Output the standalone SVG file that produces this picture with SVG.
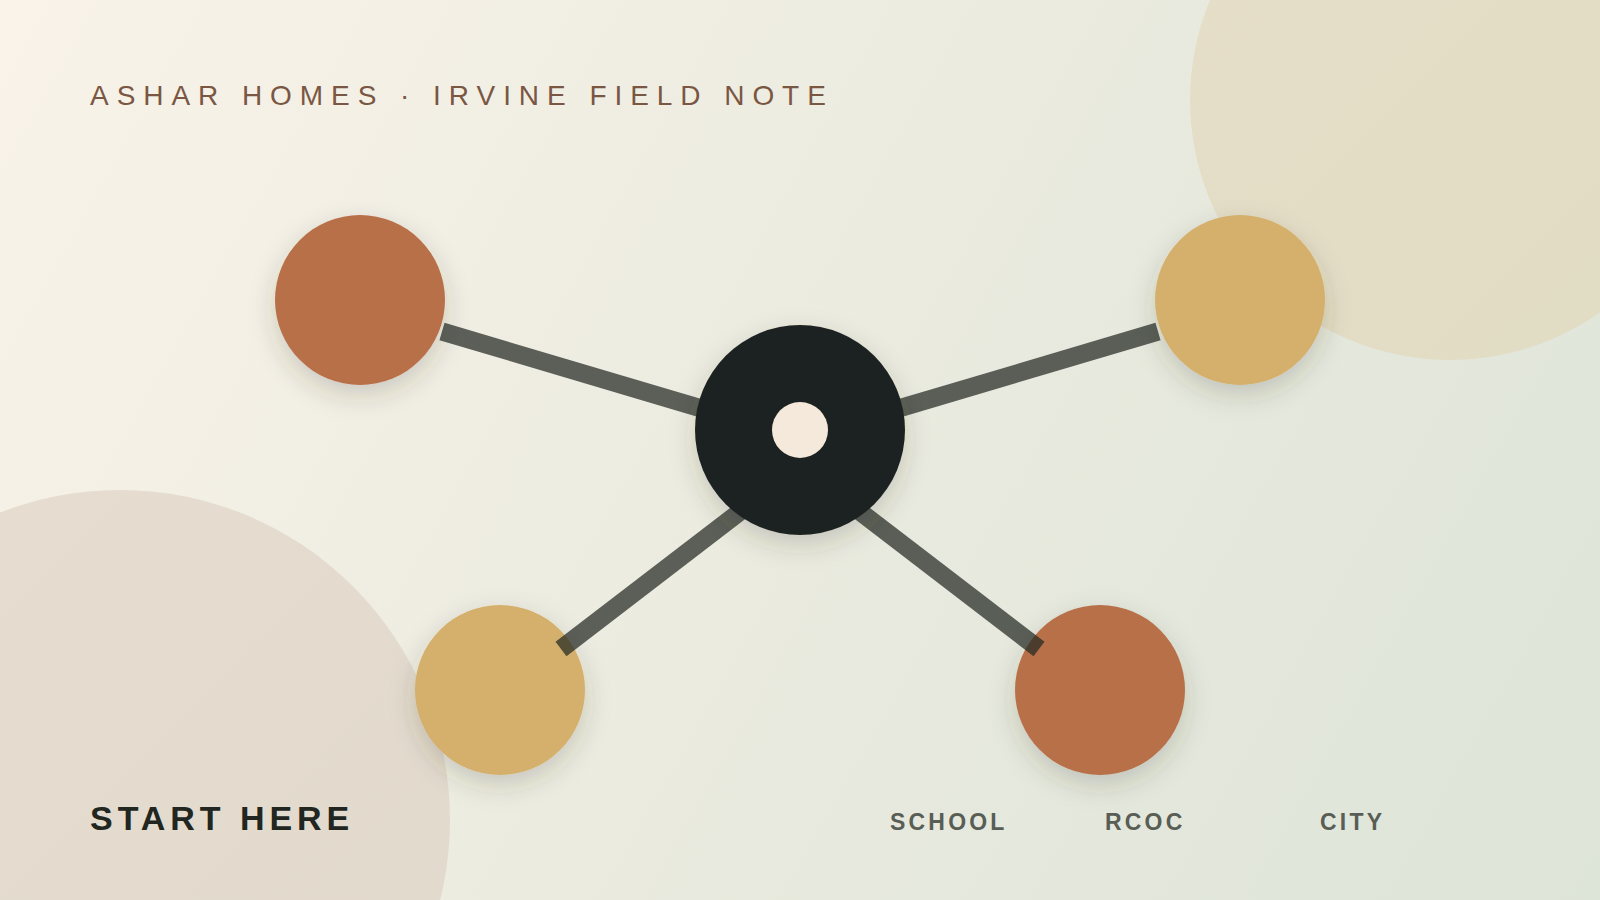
<svg xmlns="http://www.w3.org/2000/svg" width="1600" height="900" viewBox="0 0 1600 900">
  <defs>
    <linearGradient id="bg" x1="0" y1="0" x2="1600" y2="900" gradientUnits="userSpaceOnUse">
      <stop offset="0" stop-color="#f9f3e9"/>
      <stop offset="0.5" stop-color="#ebebe0"/>
      <stop offset="1" stop-color="#dde4d8"/>
    </linearGradient>
    <linearGradient id="blobA" x1="0" y1="0" x2="1" y2="1">
      <stop offset="0" stop-color="#e6dec8"/>
      <stop offset="1" stop-color="#e1dcc4"/>
    </linearGradient>
    <linearGradient id="blobB" x1="0" y1="0" x2="1" y2="1">
      <stop offset="0" stop-color="#e7ddd1"/>
      <stop offset="1" stop-color="#e1d9cc"/>
    </linearGradient>
    <filter id="shadow" x="-50%" y="-50%" width="200%" height="200%">
      <feDropShadow dx="0" dy="10" stdDeviation="13" flood-color="#3b3d2e" flood-opacity="0.2"/>
    </filter>
  </defs>
  <style>
    .title { font-family: "Liberation Sans", Arial, sans-serif; font-size: 28px; letter-spacing: 7.95px; fill: #7a5743; }
    .start { font-family: "Liberation Sans", Arial, sans-serif; font-size: 34px; font-weight: bold; letter-spacing: 4.95px; fill: #222620; }
    .label { font-family: "Liberation Sans", Arial, sans-serif; font-size: 23px; font-weight: bold; letter-spacing: 3.2px; fill: #585e55; }
    .orange { fill: #b87049; }
    .yellow { fill: #d4b06c; }
    .link { stroke: #232822; stroke-opacity: 0.72; stroke-width: 18; stroke-linecap: butt; fill: none; }
  </style>

  <g id="background">
    <rect x="0" y="0" width="1600" height="900" fill="url(#bg)"/>
    <circle cx="1450" cy="100" r="260" fill="url(#blobA)"/>
    <circle cx="120" cy="820" r="330" fill="url(#blobB)"/>
  </g>

  <g id="node-tl" filter="url(#shadow)">
    <circle cx="360" cy="300" r="85" class="orange"/>
  </g>
  <g id="node-tr" filter="url(#shadow)">
    <circle cx="1240" cy="300" r="85" class="yellow"/>
  </g>
  <g id="node-bl" filter="url(#shadow)">
    <circle cx="500" cy="690" r="85" class="yellow"/>
  </g>
  <g id="node-br" filter="url(#shadow)">
    <circle cx="1100" cy="690" r="85" class="orange"/>
  </g>

  <g id="connectors">
    <line class="link" x1="442" y1="331.5" x2="720" y2="414"/>
    <line class="link" x1="1158" y1="331.5" x2="880" y2="414"/>
    <line class="link" x1="561" y1="649" x2="767" y2="491"/>
    <line class="link" x1="1039" y1="649" x2="833" y2="491"/>
  </g>

  <g id="node-hub" filter="url(#shadow)">
    <circle cx="800" cy="430" r="105" fill="#1f2420"/>
    <circle cx="800" cy="430" r="28" fill="#f5e9dc"/>
  </g>

  <g id="title">
    <text class="title" x="90" y="105">ASHAR HOMES · IRVINE FIELD NOTE</text>
  </g>
  <g id="start-here">
    <text class="start" x="90" y="830">START HERE</text>
  </g>
  <g id="labels">
    <text class="label" x="890" y="830">SCHOOL</text>
    <text class="label" x="1105" y="830">RCOC</text>
    <text class="label" x="1320" y="830">CITY</text>
  </g>
</svg>
